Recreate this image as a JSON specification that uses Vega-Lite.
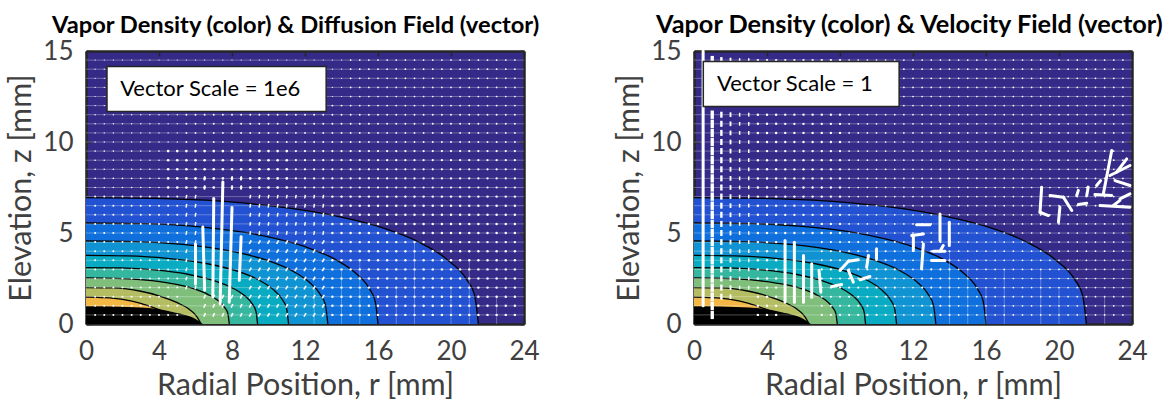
{"$schema":"https://vega.github.io/schema/vega-lite/v6.json","padding":{"left":6,"top":12,"right":0,"bottom":0},"background":"white","spacing":73,"config":{"view":{"stroke":null,"fill":"#352a87"},"title":{"font":"Lato","fontWeight":"bold","color":"#000000","anchor":"start","frame":"group","offset":0,"dy":4},"axis":{"labelFont":"Lato","titleFont":"Lato","labelFontSize":26,"titleFontSize":30.5,"titleFontWeight":"normal","labelColor":"#404040","titleColor":"#404040","grid":false,"domainColor":"#262626","domainWidth":2.5,"tickColor":"#262626","tickWidth":1.5,"tickSize":-5,"zindex":1}},
"datasets":{
"contours":[
{"level":1,"r":0,"z":6.94},{"level":1,"r":4.3,"z":6.89},{"level":1,"r":8.6,"z":6.65},{"level":1,"r":12.9,"z":6.09},{"level":1,"r":16.13,"z":5.32},{"level":1,"r":18.28,"z":4.48},{"level":1,"r":19.78,"z":3.55},{"level":1,"r":20.86,"z":2.44},{"level":1,"r":21.29,"z":1.59},{"level":1,"r":21.5,"z":0},
{"level":2,"r":0,"z":5.55},{"level":2,"r":3.2,"z":5.51},{"level":2,"r":6.4,"z":5.32},{"level":2,"r":9.6,"z":4.87},{"level":2,"r":12,"z":4.25},{"level":2,"r":13.6,"z":3.58},{"level":2,"r":14.72,"z":2.84},{"level":2,"r":15.52,"z":1.95},{"level":2,"r":15.84,"z":1.27},{"level":2,"r":16,"z":0},
{"level":3,"r":0,"z":4.56},{"level":3,"r":2.65,"z":4.53},{"level":3,"r":5.3,"z":4.37},{"level":3,"r":7.95,"z":4.0},{"level":3,"r":9.94,"z":3.49},{"level":3,"r":11.26,"z":2.94},{"level":3,"r":12.19,"z":2.33},{"level":3,"r":12.85,"z":1.6},{"level":3,"r":13.12,"z":1.04},{"level":3,"r":13.25,"z":0},
{"level":4,"r":0,"z":3.77},{"level":4,"r":2.22,"z":3.74},{"level":4,"r":4.44,"z":3.61},{"level":4,"r":6.66,"z":3.31},{"level":4,"r":8.33,"z":2.89},{"level":4,"r":9.44,"z":2.43},{"level":4,"r":10.21,"z":1.93},{"level":4,"r":10.77,"z":1.32},{"level":4,"r":10.99,"z":0.86},{"level":4,"r":11.1,"z":0},
{"level":5,"r":0,"z":3.1},{"level":5,"r":1.88,"z":3.08},{"level":5,"r":3.76,"z":2.97},{"level":5,"r":5.64,"z":2.72},{"level":5,"r":7.05,"z":2.37},{"level":5,"r":7.99,"z":2.0},{"level":5,"r":8.65,"z":1.59},{"level":5,"r":9.12,"z":1.09},{"level":5,"r":9.31,"z":0.71},{"level":5,"r":9.4,"z":0},
{"level":6,"r":0,"z":2.53},{"level":6,"r":1.57,"z":2.51},{"level":6,"r":3.14,"z":2.42},{"level":6,"r":4.71,"z":2.22},{"level":6,"r":5.89,"z":1.94},{"level":6,"r":6.67,"z":1.63},{"level":6,"r":7.22,"z":1.3},{"level":6,"r":7.61,"z":0.89},{"level":6,"r":7.77,"z":0.58},{"level":6,"r":7.85,"z":0},
{"level":7,"r":0,"z":2},{"level":7,"r":1.5,"z":1.98},{"level":7,"r":3,"z":1.8},{"level":7,"r":4,"z":1.55},{"level":7,"r":5,"z":1.17},{"level":7,"r":5.6,"z":0.85},{"level":7,"r":6,"z":0.5},{"level":7,"r":6.2,"z":0.2},{"level":7,"r":6.3,"z":0},
{"level":8,"r":0,"z":1.48},{"level":8,"r":1,"z":1.45},{"level":8,"r":2,"z":1.35},{"level":8,"r":3,"z":1.13},{"level":8,"r":3.84,"z":0.84},{"level":8,"r":4.2,"z":0.7},{"level":8,"r":4.3,"z":0},
{"level":9,"r":0,"z":0.97},{"level":9,"r":1.5,"z":0.96},{"level":9,"r":3,"z":0.9},{"level":9,"r":3.84,"z":0.84},{"level":9,"r":4.8,"z":0.65},{"level":9,"r":5.5,"z":0.48},{"level":9,"r":6,"z":0.28},{"level":9,"r":6.4,"z":0}],
"rows":[{"z":0.5},{"z":1},{"z":1.5},{"z":2},{"z":2.5},{"z":3},{"z":3.5},{"z":4},{"z":4.5},{"z":5},{"z":5.5},{"z":6},{"z":6.5},{"z":7},{"z":7.5},{"z":8},{"z":8.5},{"z":9},{"z":9.5},{"z":10},{"z":10.5},{"z":11},{"z":11.5},{"z":12},{"z":12.5},{"z":13},{"z":13.5},{"z":14},{"z":14.5}],
"dots":[
{"p":"D","m":1.4,"z":[12.5,13,13.5,14,14.5],"r":[0.5,1,1.5,2,2.5,3,3.5,4,4.5,5,5.5,6,6.5,7,7.5,8,8.5,9,9.5,10,10.5,11,11.5,12,12.5,13,13.5,14]},
{"p":"D","m":3,"z":[12.5,13,13.5,14,14.5],"r":[14.5,15,15.5,16,16.5,17,17.5,18,18.5,19,19.5,20,20.5,21,21.5,22,22.5,23,23.5]},
{"p":"D","m":2,"z":[10,10.5,11,11.5,12],"r":[0.5,1,1.5,2,2.5,3,3.5,4,4.5,5]},
{"p":"D","m":3.5,"z":[10,10.5,11,11.5,12],"r":[5.5,6,6.5,7,7.5,8,8.5,9,9.5,10,10.5,11,11.5,12,12.5,13,13.5,14,14.5,15,15.5,16,16.5,17,17.5,18,18.5,19,19.5,20,20.5,21,21.5,22,22.5,23,23.5]},
{"p":"D","m":2.5,"z":[7.5,8,8.5,9,9.5],"r":[0.5,1,1.5,2,2.5,3,3.5,4]},
{"p":"D","m":7,"z":[7.5,8,8.5,9,9.5],"r":[4.5,5,5.5,6,6.5,7,7.5,8,8.5,9,9.5,10,10.5,11]},
{"p":"D","m":5,"z":[7.5,8,8.5,9,9.5],"r":[11.5,12,12.5,13,13.5,14,14.5,15,15.5,16,16.5,17,17.5,18,18.5,19,19.5,20,20.5,21,21.5,22,22.5,23,23.5]},
{"p":"D","m":4,"z":[0.5,1,1.5,2,2.5,3,3.5,4,4.5,5,5.5,6,6.5,7],"r":[0.5,1,1.5,2,2.5,3,3.5,4,4.5,5]},
{"p":"D","m":6,"z":[0.5,1,1.5,2,2.5,3,3.5,4,4.5,5,5.5,6,6.5,7],"r":[13.5,14,14.5,15,15.5,16,16.5,17,17.5,18,18.5,19,19.5,20,20.5,21,21.5,22,22.5,23,23.5]},
{"p":"V","m":6,"z":[0.5,1,1.5,2,2.5,3,3.5,4,4.5,5,5.5,6,6.5,7,7.5,8,8.5,9,9.5,10,10.5,11,11.5,12,12.5,13,13.5,14,14.5],"r":[3.5,4,4.5]},
{"p":"V","m":5.5,"z":[5,5.5,6,6.5,7,7.5,8,8.5,9,9.5,10,10.5,11,11.5,12,12.5,13,13.5,14,14.5],"r":[5,5.5,6,6.5,7,7.5,8]},
{"p":"V","m":3,"z":[0.5,1,1.5,2,2.5,3,3.5,4,4.5,5,5.5,6,6.5,7,7.5,8,8.5,9,9.5,10,10.5,11,11.5,12,12.5,13,13.5,14,14.5],"r":[11.5,12,14.5,15,15.5,16,16.5,17,17.5,18,18.5,19,19.5,20,20.5,21,21.5,22,22.5,23,23.5]},
{"p":"V","m":3,"z":[5,5.5,6,6.5,7,7.5,8,8.5,9,9.5,10,10.5,11,11.5,12,12.5,13,13.5,14,14.5],"r":[8.5,9,9.5,10,10.5,11,12.5,13,13.5,14]},
{"p":"V","m":4.5,"z":[0.5,1,1.5,2,2.5,3,3.5,4,4.5],"r":[8.5,9,9.5,10,10.5,11,12.5,13,13.5,14]},
{"p":"V","m":4.5,"z":[0.5,1,1.5,2,2.5,3,3.5,4,4.5],"r":[7,7.5,8]}],
"ticks":[
{"p":"D","m":16,"a":30,"z":[0.5,1,1.5,2,2.5,3,3.5,4,4.5],"r":[9,9.5,10,10.5,11,11.5,12,12.5,13]},
{"p":"D","m":16,"a":25,"z":[0.5,1,1.5],"r":[6.5,7,7.5,8,8.5]},
{"p":"D","m":14,"a":10,"z":[5,5.5,6,6.5,7],"r":[5.5,6,9,9.5,10,10.5,11,11.5,12,12.5,13]},
{"p":"D","m":14,"a":15,"z":[2,2.5,3,3.5,4,4.5],"r":[5.5,6]},
{"p":"D","m":18,"a":5,"z":[7.5,8],"r":[6.5,8,8.5]},
{"p":"V","m":70,"a":0,"z":[0.5,1,1.5,2,2.5,3,3.5,4,4.5,5,5.5,6,6.5,7,7.5,8,8.5,9,9.5,10,10.5,11,11.5,14.5],"r":[1]},
{"p":"V","m":36,"a":0,"z":[1.5,2,2.5,3,3.5,4,4.5,5,5.5,6,6.5,7,7.5,8,8.5,9,9.5,10,10.5,11,11.5,14.5],"r":[1.5]},
{"p":"V","m":22,"a":0,"z":[1.5,2,2.5,3,3.5,4,4.5,5,5.5,6,6.5,7,7.5,8,8.5,9,9.5,10,10.5,11,11.5,14.5],"r":[2]},
{"p":"V","m":14,"a":0,"z":[2,2.5,3,3.5,4,4.5,5,5.5,6,6.5,7,7.5,8,8.5,9,9.5,10,10.5,11,11.5,14.5],"r":[2.5,3]}],
"arrows":[
{"p":"D","r":6.5,"z":1.85,"r2":6.4,"z2":5.33},{"p":"D","r":6.95,"z":1.5,"r2":7,"z2":6.9},{"p":"D","r":7.35,"z":1.1,"r2":7.5,"z2":7.8},{"p":"D","r":7.85,"z":1.2,"r2":8,"z2":6.4},{"p":"D","r":8.4,"z":2.4,"r2":8.5,"z2":4.8},{"p":"D","r":6,"z":2.2,"r2":6,"z2":4.4},
{"p":"V","r":0.5,"z":1,"r2":0.5,"z2":15},{"p":"V","r":4.99,"z":1.2,"r2":4.99,"z2":4.59},{"p":"V","r":5.5,"z":1.2,"r2":5.5,"z2":4.49},{"p":"V","r":6,"z":1.2,"r2":6,"z2":3.76},{"p":"V","r":6.45,"z":1.47,"r2":6.45,"z2":3.31},{"p":"V","r":6.95,"z":1.75,"r2":6.85,"z2":2.94},
{"p":"V","r":8,"z":2.94,"r2":8.46,"z2":3.45},{"p":"V","r":8.46,"z":3.45,"r2":9,"z2":3.53},{"p":"V","r":8.46,"z":2.94,"r2":8.73,"z2":2.3},{"p":"V","r":9.1,"z":2.43,"r2":9.64,"z2":2.61},{"p":"V","r":7.55,"z":2.06,"r2":8.09,"z2":2.17},{"p":"V","r":9.46,"z":3.12,"r2":9.56,"z2":3.76},{"p":"V","r":10,"z":3.58,"r2":10,"z2":4.13},
{"p":"V","r":13.48,"z":4.59,"r2":13.48,"z2":6.05},{"p":"V","r":13.99,"z":4.31,"r2":13.99,"z2":5.59},{"p":"V","r":12.2,"z":5.45,"r2":12.93,"z2":5.45},{"p":"V","r":11.93,"z":4.86,"r2":12.57,"z2":4.95},{"p":"V","r":12.02,"z":4.77,"r2":12.02,"z2":4.04},{"p":"V","r":12.57,"z":4.4,"r2":12.47,"z2":3.03},{"p":"V","r":13.02,"z":3.49,"r2":13.75,"z2":3.49},{"p":"V","r":13.11,"z":4,"r2":13.75,"z2":4},{"p":"V","r":13.66,"z":4.31,"r2":13.48,"z2":4},
{"p":"V","r":19.05,"z":7.52,"r2":18.96,"z2":6.14},{"p":"V","r":18.96,"z":6.14,"r2":19.42,"z2":5.96},{"p":"V","r":19.51,"z":7.06,"r2":20.24,"z2":6.97},{"p":"V","r":20.24,"z":6.97,"r2":20.7,"z2":6.24},{"p":"V","r":20.05,"z":6.42,"r2":19.97,"z2":5.59},{"p":"V","r":21.06,"z":7.34,"r2":20.97,"z2":7.06},{"p":"V","r":21.6,"z":7.52,"r2":21.52,"z2":7.06},{"p":"V","r":21.06,"z":6.57,"r2":21.52,"z2":6.64},
{"p":"V","r":22.43,"z":7.15,"r2":22.89,"z2":9.53},{"p":"V","r":21.97,"z":7.11,"r2":22.89,"z2":7.06},{"p":"V","r":23.71,"z":9.07,"r2":23.16,"z2":8.34},{"p":"V","r":23.07,"z":7.88,"r2":23.89,"z2":7.61},{"p":"V","r":22.79,"z":8.16,"r2":23.89,"z2":8.71},{"p":"V","r":23.34,"z":6.88,"r2":23.89,"z2":7.15},{"p":"V","r":22.25,"z":6.51,"r2":23.89,"z2":6.42},{"p":"V","r":22.98,"z":6.51,"r2":23.34,"z2":6.79},{"p":"V","r":22.06,"z":7.61,"r2":22.28,"z2":7.88}],
"faint":[
{"p":"D","r":12.5,"z":0,"z2":2},{"p":"D","r":14,"z":0,"z2":3},{"p":"D","r":15,"z":0,"z2":3.5},{"p":"D","r":17,"z":0,"z2":2},{"p":"D","r":18,"z":0,"z2":4.5},{"p":"D","r":22.5,"z":0,"z2":1.5},{"p":"D","r":21,"z":0,"z2":3.5},{"p":"D","r":20,"z":0,"z2":2},
{"p":"V","r":15,"z":0,"z2":3},{"p":"V","r":14,"z":0,"z2":4},{"p":"V","r":17,"z":0,"z2":3},{"p":"V","r":19,"z":0,"z2":3},{"p":"V","r":20,"z":0,"z2":2},{"p":"V","r":22.5,"z":0,"z2":1.5},{"p":"V","r":16,"z":0,"z2":2}],
"boxes":[{"p":"D","r":1.15,"r2":13.16,"z":11.67,"z2":14.15,"tr":1.87,"tz":12.9,"label":"Vector Scale = 1e6"},{"p":"V","r":0.51,"r2":11.24,"z":11.95,"z2":14.42,"tr":1.26,"tz":13.2,"label":"Vector Scale = 1"}]
},
"hconcat":[
{"width":438,"height":273,"title":{"text":"Vapor Density (color) & Diffusion Field (vector)","dx":-34,"fontSize":23.7},"resolve":{"axis":{"x":"independent","y":"independent"}},"layer":[
{"data":{"name":"contours"},"mark":{"type":"area","interpolate":"monotone"},"encoding":{"x":{"field":"r","type":"quantitative","scale":{"domain":[0,24],"nice":false},"title":"Radial Position, r [mm]","axis":{"values":[0,4,8,12,16,20,24],"labelPadding":19,"titlePadding":6,"labelFlush":false}},"y":{"field":"z","type":"quantitative","stack":null,"scale":{"domain":[0,15],"nice":false},"title":"Elevation, z [mm]","axis":{"values":[0,5,10,15],"labelPadding":18,"titlePadding":6}},"color":{"field":"level","type":"ordinal","legend":null,"scale":{"domain":[1,2,3,4,5,6,7,8,9],"range":["#2251d1","#0e6fdd","#0f93d2","#08abc1","#35b79f","#7fbf7b","#b5bd62","#f3b745","#000000"]}}}},
{"data":{"name":"contours"},"transform":[{"filter":"datum.level<9"}],"mark":{"type":"line","interpolate":"monotone","color":"black","strokeWidth":1.3},"encoding":{"x":{"field":"r","type":"quantitative","axis":null},"y":{"field":"z","type":"quantitative","axis":null},"detail":{"field":"level"}}},
{"data":{"name":"rows"},"mark":{"type":"rule","color":"white","opacity":0.3,"strokeWidth":1},"encoding":{"y":{"field":"z","type":"quantitative","axis":null}}},
{"data":{"name":"faint"},"transform":[{"filter":"datum.p=='D'"}],"mark":{"type":"rule","color":"white","opacity":0.3,"strokeWidth":1},"encoding":{"x":{"field":"r","type":"quantitative","axis":null},"y":{"field":"z","type":"quantitative","axis":null},"y2":{"field":"z2"}}},
{"data":{"name":"dots"},"transform":[{"filter":"datum.p=='D'"},{"flatten":["r"]},{"flatten":["z"]}],"mark":{"type":"point","shape":"circle","filled":true,"color":"white","opacity":1},"encoding":{"x":{"field":"r","type":"quantitative","axis":null},"y":{"field":"z","type":"quantitative","axis":null},"size":{"field":"m","type":"quantitative","legend":null,"scale":{"domain":[0,100],"range":[0,100]}}}},
{"data":{"name":"ticks"},"transform":[{"filter":"datum.p=='D'"},{"flatten":["r"]},{"flatten":["z"]}],"mark":{"type":"point","shape":"M-0.4,-1H0.4V1H-0.4Z","filled":true,"color":"white","opacity":1},"encoding":{"x":{"field":"r","type":"quantitative","axis":null},"y":{"field":"z","type":"quantitative","axis":null},"size":{"field":"m","type":"quantitative","legend":null,"scale":{"domain":[0,100],"range":[0,100]}},"angle":{"field":"a","type":"quantitative","legend":null,"scale":{"domain":[0,360],"range":[0,360]}}}},
{"data":{"name":"arrows"},"transform":[{"filter":"datum.p=='D'"}],"mark":{"type":"rule","color":"white","strokeWidth":3,"strokeCap":"round"},"encoding":{"x":{"field":"r","type":"quantitative","axis":null},"y":{"field":"z","type":"quantitative","axis":null},"x2":{"field":"r2"},"y2":{"field":"z2"}}},
{"data":{"name":"boxes"},"transform":[{"filter":"datum.p=='D'"}],"mark":{"type":"rect","fill":"white","stroke":"#262626","strokeWidth":1.5},"encoding":{"x":{"field":"r","type":"quantitative","axis":null},"x2":{"field":"r2"},"y":{"field":"z","type":"quantitative","axis":null},"y2":{"field":"z2"}}},
{"data":{"name":"boxes"},"transform":[{"filter":"datum.p=='D'"}],"mark":{"type":"text","font":"Lato","fontSize":22,"align":"left","baseline":"middle","color":"#000000"},"encoding":{"x":{"field":"tr","type":"quantitative","axis":null},"y":{"field":"tz","type":"quantitative","axis":null},"text":{"field":"label"}}},
{"data":{"name":"boxes"},"transform":[{"filter":"datum.p=='D'"}],"mark":{"type":"point","opacity":0},"encoding":{"x":{"field":"tr","type":"quantitative","axis":{"orient":"top","values":[0,4,8,12,16,20,24],"labels":false,"title":null}},"y":{"field":"tz","type":"quantitative","axis":{"orient":"right","values":[0,5,10,15],"labels":false,"title":null}}}}
]},
{"width":438,"height":273,"title":{"text":"Vapor Density (color) & Velocity Field (vector)","dx":-38,"fontSize":25.3},"resolve":{"axis":{"x":"independent","y":"independent"}},"layer":[
{"data":{"name":"contours"},"mark":{"type":"area","interpolate":"monotone"},"encoding":{"x":{"field":"r","type":"quantitative","scale":{"domain":[0,24],"nice":false},"title":"Radial Position, r [mm]","axis":{"values":[0,4,8,12,16,20,24],"labelPadding":19,"titlePadding":6,"labelFlush":false}},"y":{"field":"z","type":"quantitative","stack":null,"scale":{"domain":[0,15],"nice":false},"title":"Elevation, z [mm]","axis":{"values":[0,5,10,15],"labelPadding":18,"titlePadding":6}},"color":{"field":"level","type":"ordinal","legend":null,"scale":{"domain":[1,2,3,4,5,6,7,8,9],"range":["#2251d1","#0e6fdd","#0f93d2","#08abc1","#35b79f","#7fbf7b","#b5bd62","#f3b745","#000000"]}}}},
{"data":{"name":"contours"},"transform":[{"filter":"datum.level<9"}],"mark":{"type":"line","interpolate":"monotone","color":"black","strokeWidth":1.3},"encoding":{"x":{"field":"r","type":"quantitative","axis":null},"y":{"field":"z","type":"quantitative","axis":null},"detail":{"field":"level"}}},
{"data":{"name":"rows"},"mark":{"type":"rule","color":"white","opacity":0.3,"strokeWidth":1},"encoding":{"y":{"field":"z","type":"quantitative","axis":null}}},
{"data":{"name":"faint"},"transform":[{"filter":"datum.p=='V'"}],"mark":{"type":"rule","color":"white","opacity":0.3,"strokeWidth":1},"encoding":{"x":{"field":"r","type":"quantitative","axis":null},"y":{"field":"z","type":"quantitative","axis":null},"y2":{"field":"z2"}}},
{"data":{"name":"dots"},"transform":[{"filter":"datum.p=='V'"},{"flatten":["r"]},{"flatten":["z"]}],"mark":{"type":"point","shape":"circle","filled":true,"color":"white","opacity":1},"encoding":{"x":{"field":"r","type":"quantitative","axis":null},"y":{"field":"z","type":"quantitative","axis":null},"size":{"field":"m","type":"quantitative","legend":null,"scale":{"domain":[0,100],"range":[0,100]}}}},
{"data":{"name":"ticks"},"transform":[{"filter":"datum.p=='V'"},{"flatten":["r"]},{"flatten":["z"]}],"mark":{"type":"point","shape":"M-0.4,-1H0.4V1H-0.4Z","filled":true,"color":"white","opacity":1},"encoding":{"x":{"field":"r","type":"quantitative","axis":null},"y":{"field":"z","type":"quantitative","axis":null},"size":{"field":"m","type":"quantitative","legend":null,"scale":{"domain":[0,100],"range":[0,100]}},"angle":{"field":"a","type":"quantitative","legend":null,"scale":{"domain":[0,360],"range":[0,360]}}}},
{"data":{"name":"arrows"},"transform":[{"filter":"datum.p=='V'"}],"mark":{"type":"rule","color":"white","strokeWidth":3,"strokeCap":"round"},"encoding":{"x":{"field":"r","type":"quantitative","axis":null},"y":{"field":"z","type":"quantitative","axis":null},"x2":{"field":"r2"},"y2":{"field":"z2"}}},
{"data":{"name":"boxes"},"transform":[{"filter":"datum.p=='V'"}],"mark":{"type":"rect","fill":"white","stroke":"#262626","strokeWidth":1.5},"encoding":{"x":{"field":"r","type":"quantitative","axis":null},"x2":{"field":"r2"},"y":{"field":"z","type":"quantitative","axis":null},"y2":{"field":"z2"}}},
{"data":{"name":"boxes"},"transform":[{"filter":"datum.p=='V'"}],"mark":{"type":"text","font":"Lato","fontSize":22,"align":"left","baseline":"middle","color":"#000000"},"encoding":{"x":{"field":"tr","type":"quantitative","axis":null},"y":{"field":"tz","type":"quantitative","axis":null},"text":{"field":"label"}}},
{"data":{"name":"boxes"},"transform":[{"filter":"datum.p=='V'"}],"mark":{"type":"point","opacity":0},"encoding":{"x":{"field":"tr","type":"quantitative","axis":{"orient":"top","values":[0,4,8,12,16,20,24],"labels":false,"title":null}},"y":{"field":"tz","type":"quantitative","axis":{"orient":"right","values":[0,5,10,15],"labels":false,"title":null}}}}
]}
]}
